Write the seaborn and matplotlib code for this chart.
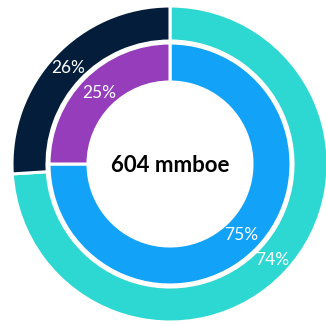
import matplotlib
matplotlib.use("Agg")
import matplotlib.pyplot as plt
import seaborn as sns

# data
outer_labels = ["Group A", "Group B"]
outer_values = [74, 26]
inner_labels = ["Type A", "Type B"]
inner_values = [75, 25]
center_text = "604 mmboe"

outer_colors = ["#2ED8D2", "#031D3B"]
inner_colors = ["#12A2F7", "#953DBB"]

sns.set_theme(style="white")
plt.rcParams["font.family"] = ["Lato", "DejaVu Sans"]

W, H = 326, 324
fig = plt.figure(figsize=(W / 100, H / 100), dpi=100)
ax = fig.add_axes([0, 0, 1, 1])

# geometry in pixels -> units (1 unit = outer radius)
R = 158.0
cx, cy = 170.0, 164.0

ax.pie(outer_values, radius=1.0, colors=outer_colors, startangle=90, counterclock=False,
       autopct="%d%%", pctdistance=0.885,
       wedgeprops=dict(width=(158 - 123) / R, edgecolor="white", linewidth=2.2),
       textprops=dict(color="white", fontsize=12.5))
ax.pie(inner_values, radius=121 / R, colors=inner_colors, startangle=90, counterclock=False,
       autopct="%d%%", pctdistance=0.83,
       wedgeprops=dict(width=(121 - 82) / R, edgecolor="white", linewidth=2.2),
       textprops=dict(color="white", fontsize=12.5))

ax.text(0, -0.01, center_text, ha="center", va="center", fontsize=16, fontweight="bold", color="black")

ax.set_aspect("auto")
ax.set_xlim(-cx / R, (W - cx) / R)
ax.set_ylim(-(H - cy) / R, cy / R)
ax.axis("off")

fig.savefig("out.png", dpi=100)
